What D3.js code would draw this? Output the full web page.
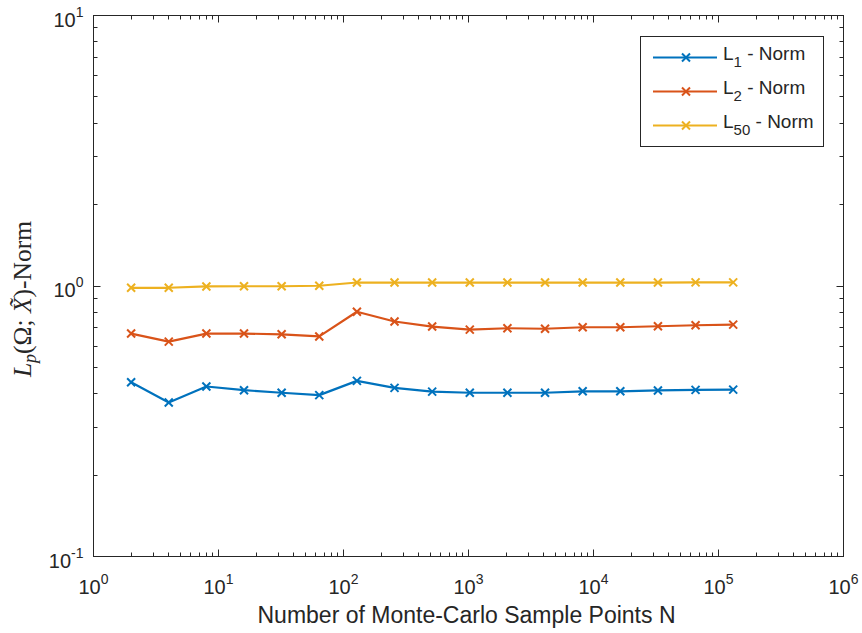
<!DOCTYPE html>
<html>
<head>
<meta charset="utf-8">
<script src="https://cdn.jsdelivr.net/npm/d3@7"></script>
<style>
  html, body { margin: 0; padding: 0; background: #fff; }
  svg { display: block; }
  text { font-family: "Liberation Sans", Arial, Helvetica, sans-serif; fill: #262626; }
</style>
</head>
<body>
<svg id="chart" width="862" height="633"></svg>
<script>
// Sample sizes N = 2^1 ... 2^17
const sampleN = [2, 4, 8, 16, 32, 64, 128, 256, 512, 1024, 2048, 4096, 8192, 16384, 32768, 65536, 131072];

// Norm values per sample size
const normL1  = [0.441, 0.371, 0.425, 0.412, 0.403, 0.395, 0.446, 0.420, 0.407, 0.403, 0.403, 0.403, 0.408, 0.408, 0.411, 0.413, 0.414];
const normL2  = [0.667, 0.623, 0.667, 0.667, 0.663, 0.651, 0.803, 0.739, 0.708, 0.690, 0.698, 0.695, 0.704, 0.704, 0.710, 0.716, 0.720];
const normL50 = [0.985, 0.985, 0.996, 0.998, 0.998, 1.002, 1.030, 1.030, 1.030, 1.030, 1.030, 1.030, 1.030, 1.030, 1.030, 1.031, 1.031];

const seriesNames = ["1", "2", "50"];
const seriesColors = ["#0072BD", "#D95319", "#EDB120"];
const seriesValues = [normL1, normL2, normL50];

// Axis decades
const xTickExps = [0, 1, 2, 3, 4, 5, 6];
const yTickExps = [-1, 0, 1];

const svg = d3.select("#chart");
const axisColor = "#262626";

const pLeft = 93.5, pRight = 843.5, pTop = 15.5, pBottom = 556.5;

const x = d3.scaleLog().domain([1, 1e6]).range([pLeft, pRight]);
const y = d3.scaleLog().domain([0.1, 10]).range([pBottom, pTop]);

// Minor tick positions (2..9 times each decade)
function minorTicks(lo, hi) {
  const out = [];
  for (let e = lo; e < hi; e++) {
    for (let m = 2; m <= 9; m++) out.push(m * Math.pow(10, e));
  }
  return out;
}

const majorLen = 7, minorLen = 4;
const ticksG = svg.append("g").attr("stroke", axisColor).attr("stroke-width", 1);

// x ticks on bottom and top, pointing inward
xTickExps.forEach(e => {
  const px = Math.round(x(Math.pow(10, e)) - 0.5) + 0.5;
  ticksG.append("line").attr("x1", px).attr("x2", px).attr("y1", pBottom).attr("y2", pBottom - majorLen);
  ticksG.append("line").attr("x1", px).attr("x2", px).attr("y1", pTop).attr("y2", pTop + majorLen);
});
minorTicks(0, 6).forEach(v => {
  const px = Math.round(x(v) - 0.5) + 0.5;
  ticksG.append("line").attr("x1", px).attr("x2", px).attr("y1", pBottom).attr("y2", pBottom - minorLen);
  ticksG.append("line").attr("x1", px).attr("x2", px).attr("y1", pTop).attr("y2", pTop + minorLen);
});
// y ticks on left and right
yTickExps.forEach(e => {
  const py = Math.round(y(Math.pow(10, e)) - 0.5) + 0.5;
  ticksG.append("line").attr("y1", py).attr("y2", py).attr("x1", pLeft).attr("x2", pLeft + majorLen);
  ticksG.append("line").attr("y1", py).attr("y2", py).attr("x1", pRight).attr("x2", pRight - majorLen);
});
minorTicks(-1, 1).forEach(v => {
  const py = Math.round(y(v) - 0.5) + 0.5;
  ticksG.append("line").attr("y1", py).attr("y2", py).attr("x1", pLeft).attr("x2", pLeft + minorLen);
  ticksG.append("line").attr("y1", py).attr("y2", py).attr("x1", pRight).attr("x2", pRight - minorLen);
});

// Axes box
svg.append("rect")
  .attr("x", pLeft).attr("y", pTop)
  .attr("width", pRight - pLeft).attr("height", pBottom - pTop)
  .attr("fill", "none").attr("stroke", axisColor).attr("stroke-width", 1);

// Tick labels: 10 with a superscript exponent
function powerLabel(g, e, anchor) {
  const t = g.append("text").attr("font-size", 20).attr("text-anchor", anchor);
  t.append("tspan").text("10");
  t.append("tspan").attr("font-size", 14).attr("dy", -10).text(e < 0 ? "-" + (-e) : String(e));
  return t;
}

xTickExps.forEach(e => {
  const t = powerLabel(svg, e, "middle");
  t.attr("x", x(Math.pow(10, e))).attr("y", 594);
});
yTickExps.forEach(e => {
  const t = powerLabel(svg, e, "end");
  t.attr("x", pLeft - 10).attr("y", y(Math.pow(10, e)) + 11);
});

// Axis titles
svg.append("text")
  .attr("x", (pLeft + pRight) / 2 - 2).attr("y", 623)
  .attr("text-anchor", "middle").attr("font-size", 23)
  .text("Number of Monte-Carlo Sample Points N");

const yl = svg.append("text")
  .attr("transform", `translate(31,${(pTop + pBottom) / 2 + 13}) rotate(-90)`)
  .attr("text-anchor", "middle")
  .attr("font-size", 25.5)
  .style("font-family", "'Liberation Serif', 'DejaVu Serif', serif");
yl.append("tspan").attr("font-style", "italic").text("L");
yl.append("tspan").attr("font-style", "italic").attr("font-size", 18).attr("dy", 5).text("p");
yl.append("tspan").attr("dy", -5).text("(Ω; ");
yl.append("tspan").attr("font-style", "italic").text("X\u0303");
yl.append("tspan").text(")-Norm");

// Series lines and x markers
const line = d3.line().x((d, i) => x(sampleN[i])).y(d => y(d));
const ms = 4;

function xMarker(g, cx, cy, color) {
  g.append("path")
    .attr("d", `M${cx - ms},${cy - ms}L${cx + ms},${cy + ms}M${cx - ms},${cy + ms}L${cx + ms},${cy - ms}`)
    .attr("stroke", color).attr("stroke-width", 2).attr("fill", "none");
}

seriesValues.forEach((vals, si) => {
  const g = svg.append("g");
  g.append("path").datum(vals)
    .attr("d", line)
    .attr("fill", "none")
    .attr("stroke", seriesColors[si])
    .attr("stroke-width", 2.2)
    .attr("stroke-linejoin", "round");
  vals.forEach((v, i) => xMarker(g, x(sampleN[i]), y(v), seriesColors[si]));
});

// Legend
const lg = svg.append("g");
lg.append("rect")
  .attr("x", 640.5).attr("y", 36.5).attr("width", 183).attr("height", 110)
  .attr("fill", "#fff").attr("stroke", axisColor).attr("stroke-width", 1);
const legendY = [57.5, 91.5, 125.5];
seriesNames.forEach((name, i) => {
  const ly = legendY[i];
  lg.append("line").attr("x1", 653).attr("x2", 717).attr("y1", ly).attr("y2", ly)
    .attr("stroke", seriesColors[i]).attr("stroke-width", 2);
  xMarker(lg, 686, ly, seriesColors[i]);
  const t = lg.append("text").attr("x", 723).attr("y", ly + 2).attr("font-size", 19);
  t.append("tspan").text("L");
  t.append("tspan").attr("font-size", 15).attr("dy", 7).text(name);
  t.append("tspan").attr("dy", -7).text(" - Norm");
});
</script>
</body>
</html>
